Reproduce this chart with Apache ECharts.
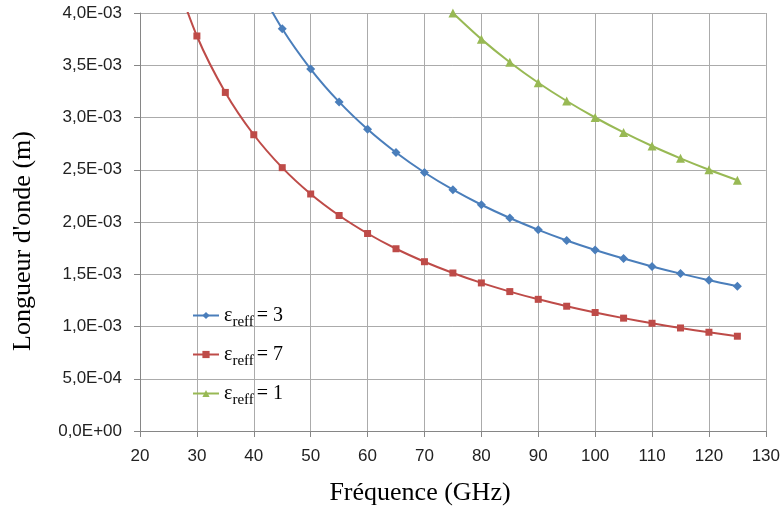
<!DOCTYPE html>
<html><head><meta charset="utf-8">
<script src="https://cdn.jsdelivr.net/npm/echarts@6/dist/echarts.min.js"></script>
<style>html,body{margin:0;padding:0;background:#fff}#c{width:783px;height:513px}</style>
</head><body><div id="c"></div>
<script>
const freq3 = [40,45,50,55,60,65,70,75,80,85,90,95,100,105,110,115,120,125];
const lambda3 = [4.330e-3,3.849e-3,3.464e-3,3.149e-3,2.887e-3,2.665e-3,2.474e-3,2.309e-3,2.165e-3,2.038e-3,1.925e-3,1.823e-3,1.732e-3,1.650e-3,1.575e-3,1.506e-3,1.443e-3,1.386e-3];
const freq7 = [25,30,35,40,45,50,55,60,65,70,75,80,85,90,95,100,105,110,115,120,125];
const lambda7 = [4.536e-3,3.780e-3,3.240e-3,2.835e-3,2.520e-3,2.268e-3,2.062e-3,1.890e-3,1.744e-3,1.620e-3,1.512e-3,1.417e-3,1.334e-3,1.260e-3,1.194e-3,1.134e-3,1.080e-3,1.031e-3,0.986e-3,0.945e-3,0.907e-3];
const freq1 = [75,80,85,90,95,100,105,110,115,120,125];
const lambda1 = [4.000e-3,3.750e-3,3.529e-3,3.333e-3,3.158e-3,3.000e-3,2.857e-3,2.727e-3,2.609e-3,2.500e-3,2.400e-3];
const seriesNames = ['e3','e7','e1'];
const legendText = {e3:'3', e7:'7', e1:'1'};
const xTitle = 'Fréquence (GHz)';
const yTitle = "Longueur d'onde (m)";

function pairs(xs, ys){ return xs.map((x,i)=>[x, ys[i]]); }
function fmtY(v){
  if (v === 0) return '0,0E+00';
  const e = Math.floor(Math.log10(v) + 1e-9);
  const m = v / Math.pow(10, e);
  const sign = e < 0 ? '-' : '+';
  const ae = Math.abs(e);
  return m.toFixed(1).replace('.', ',') + 'E' + sign + (ae < 10 ? '0' + ae : ae);
}
const chart = echarts.init(document.getElementById('c'), null, {renderer:'canvas'});
const labelFont = '"Liberation Sans", Arial, sans-serif';
const serif = '"Liberation Serif", "DejaVu Serif", serif';
chart.setOption({
  animation:false,
  backgroundColor:'#fff',
  grid:{left:140, right:16, top:13, bottom:82},
  xAxis:{
    type:'value', min:20, max:130, interval:10,
    axisLine:{show:true, lineStyle:{color:'#868686', width:1}},
    axisTick:{show:true, length:6, lineStyle:{color:'#868686'}},
    axisLabel:{fontFamily:labelFont, fontSize:17, color:'#222', margin:17},
    splitLine:{show:true, lineStyle:{color:'#ababab', width:1}}
  },
  yAxis:{
    type:'value', min:0, max:0.004, interval:0.0005,
    axisLine:{show:true, lineStyle:{color:'#868686', width:1}},
    axisTick:{show:true, length:6, lineStyle:{color:'#868686'}},
    axisLabel:{fontFamily:labelFont, fontSize:17, color:'#222', margin:18, formatter:fmtY},
    splitLine:{show:true, lineStyle:{color:'#ababab', width:1}}
  },
  graphic:[
    {type:'text', x:420, y:493, silent:true,
     style:{text:xTitle, font:'26px "Liberation Serif", serif', fill:'#000', align:'center', verticalAlign:'middle'}},
    {type:'text', x:23, y:241, rotation:Math.PI/2, silent:true,
     style:{text:yTitle, font:'26px "Liberation Serif", serif', fill:'#000', align:'center', verticalAlign:'middle'}}
  ],
  legend:{
    orient:'vertical', left:187, top:295, itemGap:8, itemWidth:26, itemHeight:9,
    data:seriesNames,
    formatter:function(n){ return '{e|ε}{s|reff}{e|= ' + legendText[n] + '}'; },
    textStyle:{
      fontFamily:serif, color:'#000',
      rich:{
        e:{fontFamily:serif, fontSize:20, color:'#000', lineHeight:22, padding:[4,0,4,0], verticalAlign:'middle'},
        s:{fontFamily:serif, fontSize:15, color:'#000', lineHeight:14, padding:[15,3,1,0], verticalAlign:'middle'}
      }
    }
  },
  series:[
    {name:'e3', type:'line', smooth:0.3, data:pairs(freq3, lambda3), color:'#4A7EBB',
     symbol:'diamond', symbolSize:9, lineStyle:{width:2}, clip:true},
    {name:'e7', type:'line', smooth:0.3, data:pairs(freq7, lambda7), color:'#BE4B48',
     symbol:'rect', symbolSize:7, lineStyle:{width:2}, clip:true},
    {name:'e1', type:'line', smooth:0.3, data:pairs(freq1, lambda1), color:'#98B954',
     symbol:'triangle', symbolSize:9, lineStyle:{width:2}, clip:true}
  ]
});
</script></body></html>
